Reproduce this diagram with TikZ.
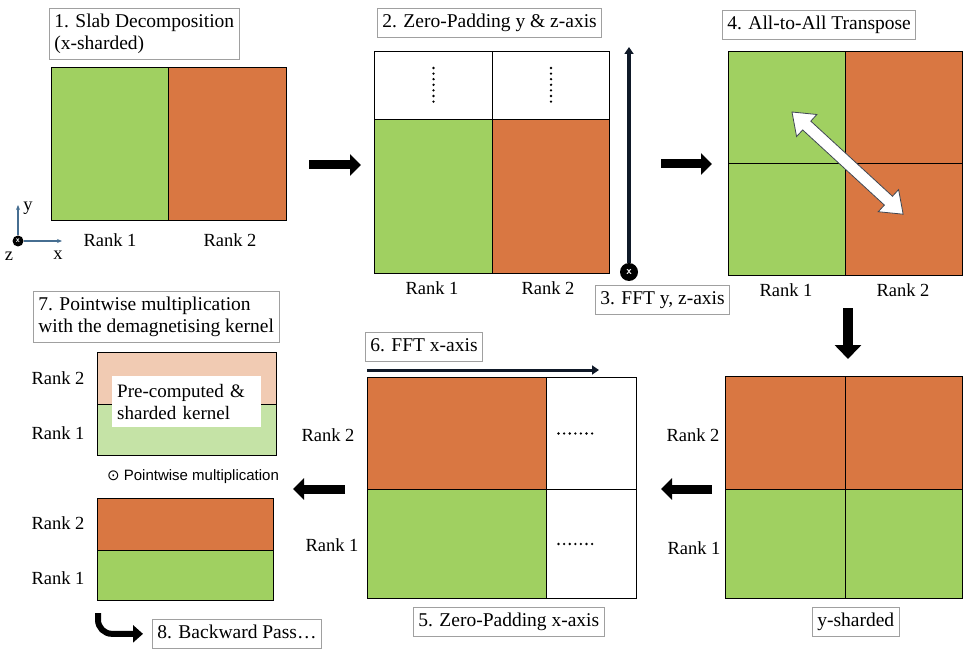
\documentclass[tikz,border=0pt]{standalone}
\usepackage{fontspec}
\setmainfont{Liberation Serif}
\newfontfamily\pwfont{Liberation Sans}
\newfontfamily\symbfont{DejaVu Sans}
\usetikzlibrary{arrows.meta}
\definecolor{rankgreen}{RGB}{160,208,97}
\definecolor{rankorange}{RGB}{217,119,66}
\definecolor{kernorange}{RGB}{241,203,179}
\definecolor{kerngreen}{RGB}{197,227,166}
\definecolor{boxgray}{RGB}{160,160,160}
\definecolor{axisblue}{RGB}{70,110,145}
\definecolor{fftnavy}{RGB}{15,25,40}

\begin{document}
\begin{tikzpicture}[x=1pt, y=-1pt,
    font=\fontsize{19.5}{22}\selectfont,
    cell/.style={draw=black, line width=1pt, anchor=north west, inner sep=0pt},
    stagebox/.style={draw=boxgray, line width=0.7pt, fill=white, anchor=north west,
        align=left, inner xsep=5pt, inner ysep=5.5pt},
    oneline/.style={text height=14pt, text depth=4pt},
    rank/.style={inner sep=0pt, font=\fontsize{18.5}{21}\selectfont},
    bigarrow/.style={line width=9pt, -{Triangle[length=11pt, width=21pt]}},
    fftarrow/.style={draw=fftnavy, line width=3.5pt, -{Triangle[length=7pt, width=9pt]}},
    axisarrow/.style={draw=axisblue, line width=1.2pt, -{Stealth[length=5pt, width=4pt]}},
    dotrow/.style={line width=2.6pt, line cap=round, dash pattern=on 0pt off 5.6pt}
]
\useasboundingbox (0,0) rectangle (972,655);

% 1. slab decomposition
\node[stagebox] (lab1) at (49,8) {1. Slab Decomposition\\(x-sharded)};
\node[cell, fill=rankgreen, minimum width=117, minimum height=153] (slab1) at (51,67) {};
\node[cell, fill=rankorange, minimum width=118, minimum height=153] (slab2) at (168,67) {};
\node[rank] (r11) at (110,240) {Rank 1};
\node[rank] (r12) at (230,240) {Rank 2};
\node[circle, fill=black, text=white, minimum size=11pt, inner sep=0pt,
    font=\sffamily\bfseries\fontsize{8}{8}\selectfont] (orig) at (18,241) {x};
\draw[axisarrow] (orig) -- ++(0,-36);
\draw[axisarrow] (orig) -- ++(44,0);
\node[rank] (ylab) at (28,208) {y};
\node[rank] (xlab) at (58,255) {x};
\node[rank] (zlab) at (9,256) {z};

% 2. zero padding y and z
\node[stagebox, oneline] (lab2) at (377,8) {2. Zero-Padding y \& z-axis};
\node[cell, minimum width=118, minimum height=68] (padtop1) at (374,51) {};
\node[cell, minimum width=117, minimum height=68] (padtop2) at (492,51) {};
\node[cell, fill=rankgreen, minimum width=118, minimum height=154] (pad1) at (374,119) {};
\node[cell, fill=rankorange, minimum width=117, minimum height=154] (pad2) at (492,119) {};
\draw[dotrow] (padtop1.north) ++(0,17) -- ++(0,35);
\draw[dotrow] (padtop2.north) ++(0,17) -- ++(0,35);
\node[rank] (r21) at (432,288) {Rank 1};
\node[rank] (r22) at (548,288) {Rank 2};
\draw[bigarrow] ([shift={(-65,46)}]pad1.north west) -- ([shift={(-13,46)}]pad1.north west);

% 3. fft along y and z
\node[circle, fill=black, text=white, minimum size=18pt, inner sep=0pt,
    font=\sffamily\bfseries\fontsize{11}{11}\selectfont] (zc) at (629,272) {x};
\draw[fftarrow] (zc) -- ++(0,-225);
\node[stagebox, oneline] (lab3) at (595,285) {3. FFT y, z-axis};

% 4. transpose
\node[stagebox, oneline] (lab4) at (722,10) {4. All-to-All Transpose};
\node[cell, fill=rankgreen, minimum width=117, minimum height=112] (tr1) at (728,51) {};
\node[cell, fill=rankorange, minimum width=117, minimum height=112] (tr2) at (845,51) {};
\node[cell, fill=rankgreen, minimum width=117, minimum height=112] (tr3) at (728,163) {};
\node[cell, fill=rankorange, minimum width=117, minimum height=112] (tr4) at (845,163) {};
\draw[bigarrow] ([xshift=51pt]pad2.east |- tr1.south west) -- ([xshift=-16pt]tr1.south west);
\begin{scope}[shift={(792,112)}, rotate=-42.6]
\filldraw[fill=white, draw=fftnavy!80, line width=0.8pt]
    (0,0) -- (20,15) -- (20,6) -- (131,6) -- (131,15) -- (151,0)
    -- (131,-15) -- (131,-6) -- (20,-6) -- (20,-15) -- cycle;
\end{scope}
\node[rank] (r41) at (786,290) {Rank 1};
\node[rank] (r42) at (903,290) {Rank 2};

% y-sharded
\node[cell, fill=rankorange, minimum width=120, minimum height=113] (ys1) at (725,376) {};
\node[cell, fill=rankorange, minimum width=117, minimum height=113] (ys2) at (845,376) {};
\node[cell, fill=rankgreen, minimum width=120, minimum height=109] (ys3) at (725,489) {};
\node[cell, fill=rankgreen, minimum width=117, minimum height=109] (ys4) at (845,489) {};
\draw[bigarrow, line width=10pt, -{Triangle[length=14pt, width=26pt]}]
    ([shift={(3,32)}]tr4.south west) -- ([shift={(3,-17)}]ys2.north west);
\node[stagebox, oneline] (labys) at (812,607) {y-sharded};
\node[rank] (rys2) at (693,435) {Rank 2};
\node[rank] (rys1) at (694,548) {Rank 1};

% 5. zero padding x, 6. fft along x
\node[cell, fill=rankorange, minimum width=179, minimum height=112] (fx1) at (367,377) {};
\node[cell, minimum width=90, minimum height=112] (fx2) at (546,377) {};
\node[cell, fill=rankgreen, minimum width=179, minimum height=109] (fx3) at (367,489) {};
\node[cell, minimum width=90, minimum height=109] (fx4) at (546,489) {};
\draw[dotrow] (fx2.center) ++(-33,0) -- ++(34,0);
\draw[dotrow] (fx4.center) ++(-33,0) -- ++(34,0);
\draw[bigarrow] ([xshift=-13pt]ys3.north west) -- ([xshift=24pt]fx4.north east);
\node[stagebox, oneline] (lab6) at (365,332) {6. FFT x-axis};
\draw[fftarrow, line width=3pt] ([yshift=7pt]fx1.north west) -- ([shift={(-38,-7)}]fx2.north east);
\node[stagebox, oneline] (lab5) at (413,607) {5. Zero-Padding x-axis};
\node[rank] (r52) at (328,435) {Rank 2};
\node[rank] (r51) at (332,545) {Rank 1};

% 7. kernel multiplication
\node[stagebox] (lab7) at (33,291) {7. Pointwise multiplication\\with the demagnetising kernel};
\node[cell, fill=kernorange, minimum width=179, minimum height=52] (k2) at (97,352) {};
\node[cell, fill=kerngreen, minimum width=179, minimum height=51] (k1) at (97,404) {};
\node[fill=white, anchor=north west, minimum height=51, text width=139, align=left,
    inner sep=5pt, font=\fontsize{19}{22}\selectfont] (kern) at (112,376) {Pre-computed \&\\sharded kernel};
\node[rank] (rk2) at (58,378) {Rank 2};
\node[rank] (rk1) at (58,433) {Rank 1};
\node[font=\pwfont\fontsize{15}{17}\selectfont] (pw) at (193,477)
    {{\symbfont ⊙} Pointwise multiplication};
\node[cell, fill=rankorange, minimum width=176, minimum height=52] (bot2) at (97,498) {};
\node[cell, fill=rankgreen, minimum width=176, minimum height=50] (bot1) at (97,550) {};
\node[rank] (rb2) at (58,523) {Rank 2};
\node[rank] (rb1) at (58,578) {Rank 1};
\draw[bigarrow] ([xshift=-22pt]fx3.north west) -- ([shift={(19,-9)}]bot2.north east);

% 8. backward pass
\node[stagebox, oneline] (lab8) at (152,619) {8. Backward Pass\ldots};
\draw[line width=6pt, rounded corners=14pt, -{Triangle[length=10pt, width=17pt]}]
    ([shift={(1,12)}]bot1.south west) |- ([xshift=-9pt]lab8.west);
\end{tikzpicture}
\end{document}
